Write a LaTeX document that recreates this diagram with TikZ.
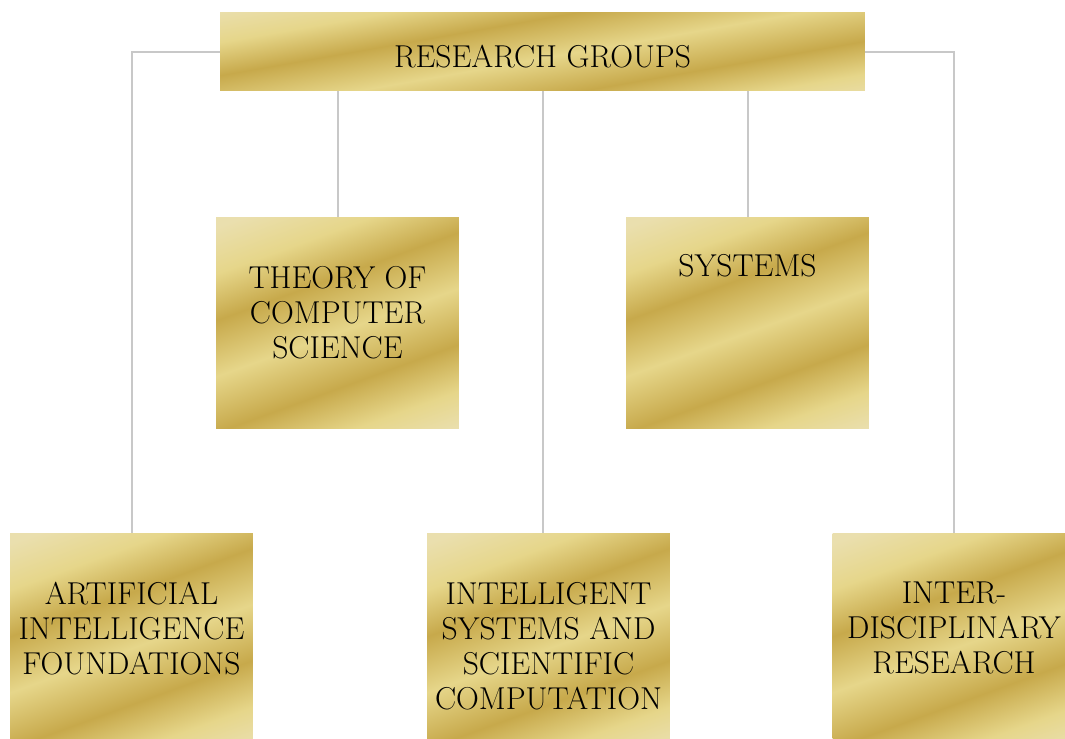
\documentclass[tikz,border=0pt]{standalone}
\usetikzlibrary{positioning}

\definecolor{goldpale}{HTML}{EADFAE}
\definecolor{goldlight}{HTML}{E6D68A}
\definecolor{golddark}{HTML}{C7A94B}
\definecolor{wiregray}{HTML}{C8C8C8}

\pgfdeclarehorizontalshading{goldfoil}{100bp}{color(0bp)=(goldpale); color(20bp)=(goldpale);
  color(30bp)=(goldlight); color(40bp)=(golddark); color(52bp)=(goldlight);
  color(64bp)=(golddark); color(74bp)=(goldlight); color(82bp)=(goldpale); color(100bp)=(goldpale)}

\tikzset{
  box/.style={shading=goldfoil, shading angle=-70, minimum width=4.86cm, minimum height=4.24cm, inner sep=0pt},
  topbox/.style={box, minimum width=12.9cm, minimum height=1.58cm, shading angle=-80},
  lbl/.style={align=center, inner sep=0pt, font=\fontsize{18}{20}\selectfont},
  wire/.style={draw=wiregray, line width=0.04cm}
}

\begin{document}
\begin{tikzpicture}[x=0.02cm,y=-0.02cm]
\clip (0,0) rectangle (1065,738);

% boxes
\node[topbox] (top) at (542.5,51.5) {};
\node[box] (thy) at (337.5,323) {};
\node[box] (sys) at (747.5,323) {};
\node[box] (ai)  at (131.5,639) {};
\node[box] (isc) at (548.5,639) {};
\node[box] (idr) at (954,639) {};

% connectors
\draw[wire] (top.west) -| (ai.north);
\draw[wire] (top.east) -| (idr.north);
\draw[wire] (top.south -| thy.north) -- (thy.north);
\draw[wire] (top.south -| sys.north) -- (sys.north);
\draw[wire] (top.south) -- (top.south |- isc.north);

% labels
\node[lbl, below=0.66cm of top.north] (toplbl) {RESEARCH GROUPS};
\node[lbl, below=0.98cm of thy.north] (thylbl) {THEORY OF\\COMPUTER\\SCIENCE};
\node[lbl, below=0.74cm of sys.north] (syslbl) {SYSTEMS};
\node[lbl, below=0.98cm of ai.north] (ailbl) {ARTIFICIAL\\INTELLIGENCE\\FOUNDATIONS};
\node[lbl, below=0.98cm of isc.north] (isclbl) {INTELLIGENT\\SYSTEMS AND\\SCIENTIFIC\\COMPUTATION};
\node[lbl, below=0.98cm of idr.north] (idrlbl) {INTER-\\DISCIPLINARY\\RESEARCH};
\end{tikzpicture}
\end{document}
